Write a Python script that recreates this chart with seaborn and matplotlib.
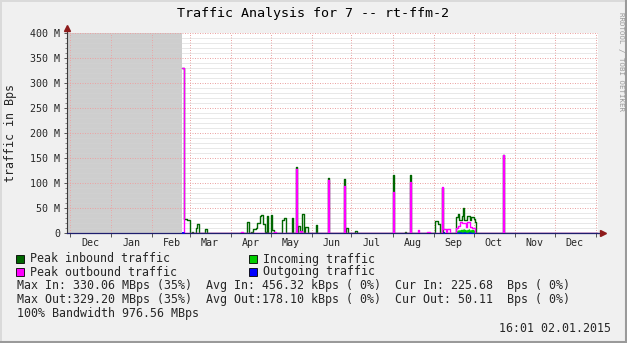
import numpy as np
import pandas as pd
import matplotlib
matplotlib.use("Agg")
import matplotlib.pyplot as plt
import matplotlib.dates as mdates
from matplotlib.ticker import MultipleLocator, FuncFormatter, NullFormatter
from matplotlib.patches import Rectangle
from matplotlib.lines import Line2D
import seaborn as sns

# ---------------- data ----------------
title = "Traffic Analysis for 7 -- rt-ffm-2"
y_label = "traffic in Bps"
watermark = "RRDTOOL / TOBI OETIKER"
timestamp = "16:01 02.01.2015"
base_date = "2013-12-01"          # day 0
view_start = "2013-11-28 12:00"
view_end = "2015-01-02 16:01"
first_data_day = 84               # data known from this day on (before: unknown / grey)
last_data_day = 397

# values in M (Bps), per day offset from base_date
peak_in_days = [84, 85, 86, 87, 88, 89, 92, 95, 96, 102, 133, 134, 136,
                138, 139, 140, 141, 142, 143, 144, 145, 146, 147, 148,
                151, 152, 153, 160, 161, 162, 167, 170, 172, 175, 177, 178,
                185, 194, 206, 208, 215, 243, 252, 256, 275, 276, 277, 278,
                280, 291, 292, 293, 294, 295, 296, 297, 298, 299, 300, 301,
                302, 303, 304, 305, 326]
peak_in_vals = [330, 330, 29, 29, 27, 27, 2, 11, 19, 9, 22, 22, 2,
                8, 8, 11, 20, 20, 35, 36, 18, 18, 3, 35,
                36, 7, 7, 26, 31, 31, 30, 132, 14, 38, 12, 12,
                16, 110, 108, 10, 5, 116, 3, 116, 24, 24, 18, 18,
                90, 33, 39, 27, 27, 34, 51, 27, 27, 34, 34, 26,
                33, 33, 29, 22, 157]

peak_out_days = [84, 85, 129, 154, 170, 173, 174, 194, 206, 243, 256, 262,
                 269, 270, 280, 281, 282, 284, 285, 291, 292, 293, 294,
                 295, 296, 297, 298, 299, 300, 301, 302, 303, 304, 326]
peak_out_vals = [330, 330, 3, 3, 128, 4, 4, 106, 94, 83, 103, 6,
                 2, 2, 92, 9, 9, 9, 9, 11, 14, 14, 23,
                 21, 21, 21, 13, 23, 23, 13, 13, 11, 11, 156]

incoming_days = [291, 292, 293, 294, 295, 296, 297, 298, 299, 300, 301, 302, 303, 304]
incoming_vals = [5, 7, 7, 8, 8, 9, 8, 7, 8, 9, 7, 8, 8, 6]

outgoing_days = [84, 85, 281, 291, 292, 293, 294, 295, 296, 297, 298, 299, 300, 301, 302, 303, 304]
outgoing_vals = [3, 3, 3, 2, 3, 3, 3, 2, 3, 3, 2, 2, 3, 3, 2, 2, 2]

y_ticks = [0, 50, 100, 150, 200, 250, 300, 350, 400]

legend_labels = ["Peak inbound traffic", "Incoming traffic",
                 "Peak outbound traffic", "Outgoing traffic"]
legend_colors = ["#006600", "#00CC00", "#FF00FF", "#0000FF"]

stats_lines = [
    "Max In: 330.06 MBps (35%)  Avg In: 456.32 kBps ( 0%)  Cur In: 225.68  Bps ( 0%)",
    "Max Out:329.20 MBps (35%)  Avg Out:178.10 kBps ( 0%)  Cur Out: 50.11  Bps ( 0%)",
    "100% Bandwidth 976.56 MBps",
]

# ---------------- build table ----------------
base = pd.Timestamp(base_date)
days = np.arange(first_data_day, last_data_day + 1)


def daily(d, v):
    s = pd.Series(0.0, index=days)
    s.loc[d] = v
    return s.values


df = pd.DataFrame({
    "date": base + pd.to_timedelta(days, unit="D"),
    "peak_in": daily(peak_in_days, peak_in_vals),
    "peak_out": daily(peak_out_days, peak_out_vals),
    "incoming": daily(incoming_days, incoming_vals),
    "outgoing": daily(outgoing_days, outgoing_vals),
})
end_row = df.iloc[[-1]].copy()
end_row["date"] = pd.Timestamp(view_end)
df = pd.concat([df, end_row], ignore_index=True)

# ---------------- figure ----------------
sns.set_theme(style="white")
plt.rcParams["font.family"] = ["DejaVu Sans Mono", "DejaVu Sans"]

W, H = 627, 343
fig = plt.figure(figsize=(W / 100, H / 100), dpi=100, facecolor="#F0F0F0")
L, R, T, B = 66.7, 598.0, 33.3, 233.3
ax = fig.add_axes([L / W, 1 - B / H, (R - L) / W, (B - T) / H])
ax.set_facecolor("white")

x0 = mdates.date2num(pd.Timestamp(view_start))
x1 = mdates.date2num(pd.Timestamp(view_end))
xdata0 = mdates.date2num(base + pd.Timedelta(days=first_data_day))

ax.axvspan(x0, xdata0, color="#CECECE", lw=0, zorder=0.5)

sns.lineplot(data=df, x="date", y="peak_in", ax=ax, color=legend_colors[0],
             lw=1.0, drawstyle="steps-post", estimator=None, sort=False, zorder=3)
ax.fill_between(df["date"], 0, df["incoming"], step="post",
                color=legend_colors[1], lw=0, zorder=3.2)
sns.lineplot(data=df, x="date", y="peak_out", ax=ax, color=legend_colors[2],
             lw=1.0, drawstyle="steps-post", estimator=None, sort=False, zorder=3.4)
ax.fill_between(df["date"], 0, df["outgoing"], step="post",
                color=legend_colors[3], lw=0, zorder=3.6)
sns.lineplot(data=df, x="date", y="outgoing", ax=ax, color=legend_colors[3],
             lw=0.6, drawstyle="steps-post", estimator=None, sort=False, zorder=2.2)

ax.set_xlabel("")
ax.set_ylabel("")
ax.set_xlim(x0, x1)
ax.set_ylim(0, 400)

# x axis: month boundaries as gridlines, month names centred
ax.xaxis.set_major_locator(mdates.MonthLocator())
ax.xaxis.set_major_formatter(NullFormatter())
ax.xaxis.set_minor_locator(mdates.MonthLocator(bymonthday=16))
ax.xaxis.set_minor_formatter(mdates.DateFormatter("%b"))
ax.tick_params(axis="x", which="major", length=3, width=0.7, color="#555555",
               direction="out", bottom=True)
ax.tick_params(axis="x", which="minor", length=0, pad=3.2, labelsize=7.2,
               bottom=True)

# y axis
ax.yaxis.set_major_locator(MultipleLocator(50))
ax.yaxis.set_minor_locator(MultipleLocator(10))
ax.yaxis.set_major_formatter(FuncFormatter(lambda v, p: "0" if v == 0 else f"{v:.0f} M"))
ax.tick_params(axis="y", which="major", length=2.2, width=0.7, color="#555555",
               direction="out", pad=2.7, labelsize=7.2, left=True)
ax.tick_params(axis="y", which="minor", length=1.4, width=0.7, color="#888888",
               direction="out", left=True)

ax.set_axisbelow("line")
ax.grid(which="major", axis="both", color="#EBA4A4", linestyle=(0, (1, 1.5)), lw=0.72)
ax.grid(which="minor", axis="y", color="#D2D2D2", linestyle=(0, (1, 1)), lw=0.72)

for s in ["top", "right"]:
    ax.spines[s].set_visible(False)
ax.spines["left"].set_color("#3A3A3A")
ax.spines["left"].set_linewidth(0.8)
ax.spines["bottom"].set_color("#1E1E6E")
ax.spines["bottom"].set_linewidth(0.9)

# axis arrows
arrow_c = "#8E1B1B"
ax.plot([0, 0], [1, 1.025], transform=ax.transAxes, color="#3A3A3A", lw=0.8, clip_on=False)
ax.plot([0], [1.027], transform=ax.transAxes, marker="^", ms=4.5, color=arrow_c,
        clip_on=False, mec=arrow_c)
ax.plot([1, 1.008], [0, 0], transform=ax.transAxes, color="#1E1E6E", lw=0.9, clip_on=False)
ax.plot([1.009], [0], transform=ax.transAxes, marker=">", ms=4.5, color=arrow_c,
        clip_on=False, mec=arrow_c)

# ---------------- texts ----------------
fs_leg = 8.4
fig.text(313 / W, 1 - 13.5 / H, title, ha="center", va="center", fontsize=9.6, color="black")
fig.text(11 / W, 1 - 133 / H, y_label, ha="center", va="center", rotation=90, fontsize=8.4)
fig.text(620.5 / W, 1 - 62 / H, watermark, ha="center", va="center", rotation=270,
         fontsize=5.3, color="#999999")

leg_pos = [(16, 259), (249, 259), (16, 272), (249, 272)]
for (lx, ly), lab, col in zip(leg_pos, legend_labels, legend_colors):
    fig.patches.append(Rectangle((lx / W, 1 - (ly + 4) / H), 8 / W, 8 / H,
                                 transform=fig.transFigure, facecolor=col,
                                 edgecolor="black", lw=0.6))
    fig.text((lx + 14) / W, 1 - ly / H, lab, ha="left", va="center", fontsize=fs_leg)

for i, line in enumerate(stats_lines):
    fig.text(17 / W, 1 - (286 + 14 * i) / H, line, ha="left", va="center", fontsize=fs_leg)

fig.text(611 / W, 1 - 328 / H, timestamp, ha="right", va="center", fontsize=fs_leg)

# outer 3D frame
fig.add_artist(Line2D([0, 1], [1 - 0.5 / H, 1 - 0.5 / H], transform=fig.transFigure, color="#DADADA", lw=1.4))
fig.add_artist(Line2D([0.5 / W, 0.5 / W], [0, 1], transform=fig.transFigure, color="#DADADA", lw=1.4))
fig.add_artist(Line2D([0, 1], [1 / H, 1 / H], transform=fig.transFigure, color="#9A9A9A", lw=1.5))
fig.add_artist(Line2D([1 - 1 / W, 1 - 1 / W], [0, 1], transform=fig.transFigure, color="#9A9A9A", lw=1.5))

fig.savefig("out.png", dpi=100, facecolor=fig.get_facecolor())
